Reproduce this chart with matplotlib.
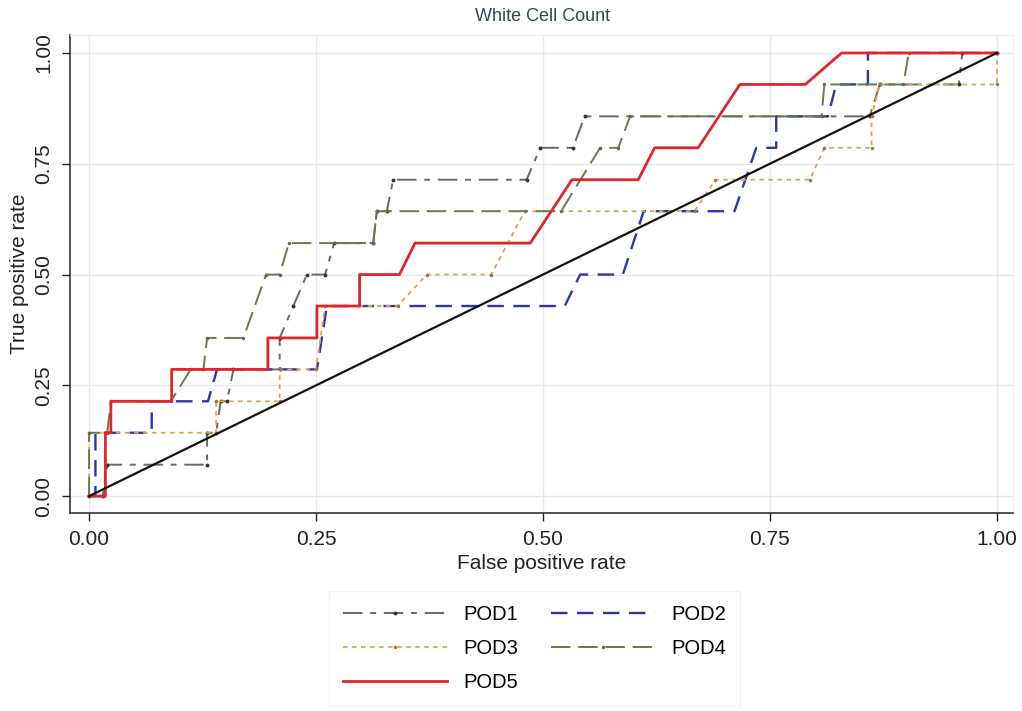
import matplotlib
matplotlib.use('Agg')
import matplotlib.pyplot as plt

plt.rcParams['font.family'] = ['Liberation Sans', 'DejaVu Sans']

# ROC points (false positive rate, true positive rate) per period
pod1_fpr = [0, 0.015, 0.020, 0.130, 0.130, 0.140, 0.145, 0.152, 0.159, 0.210, 0.210, 0.225, 0.240, 0.260,
            0.270, 0.313, 0.317, 0.328, 0.335, 0.482, 0.497, 0.533, 0.546, 0.860, 0.871, 0.958, 0.962, 1.0]
pod1_tpr = [0, 0, 0.071, 0.071, 0.143, 0.143, 0.214, 0.214, 0.286, 0.286, 0.357, 0.429, 0.5, 0.5,
            0.571, 0.571, 0.643, 0.643, 0.714, 0.714, 0.786, 0.786, 0.857, 0.857, 0.929, 0.929, 1.0, 1.0]

pod2_fpr = [0, 0.007, 0.007, 0.069, 0.069, 0.131, 0.141, 0.251, 0.262, 0.524, 0.541, 0.588, 0.611,
            0.711, 0.735, 0.757, 0.757, 0.814, 0.823, 0.858, 0.858, 1.0]
pod2_tpr = [0, 0, 0.143, 0.143, 0.214, 0.214, 0.286, 0.286, 0.429, 0.429, 0.5, 0.5, 0.643,
            0.643, 0.786, 0.786, 0.857, 0.857, 0.929, 0.929, 1.0, 1.0]

pod3_fpr = [0, 0, 0.140, 0.140, 0.210, 0.210, 0.250, 0.260, 0.340, 0.372, 0.443, 0.480, 0.667,
            0.690, 0.794, 0.810, 0.862, 0.862, 0.871, 1.0, 1.0]
pod3_tpr = [0, 0.143, 0.143, 0.214, 0.214, 0.286, 0.286, 0.429, 0.429, 0.5, 0.5, 0.643, 0.643,
            0.714, 0.714, 0.786, 0.786, 0.857, 0.929, 0.929, 1.0]

pod4_fpr = [0, 0, 0.020, 0.024, 0.090, 0.112, 0.126, 0.130, 0.170, 0.195, 0.210, 0.220, 0.313,
            0.317, 0.520, 0.563, 0.583, 0.596, 0.807, 0.810, 0.897, 0.903, 1.0]
pod4_tpr = [0, 0.143, 0.143, 0.214, 0.214, 0.286, 0.286, 0.357, 0.357, 0.5, 0.5, 0.571, 0.571,
            0.643, 0.643, 0.786, 0.786, 0.857, 0.857, 0.929, 0.929, 1.0, 1.0]

pod5_fpr = [0, 0.018, 0.018, 0.024, 0.024, 0.091, 0.091, 0.197, 0.197, 0.251, 0.251, 0.298,
            0.298, 0.342, 0.359, 0.486, 0.532, 0.605, 0.623, 0.671, 0.717, 0.789, 0.829, 1.0]
pod5_tpr = [0, 0, 0.143, 0.143, 0.214, 0.214, 0.286, 0.286, 0.357, 0.357, 0.429, 0.429,
            0.5, 0.5, 0.571, 0.571, 0.714, 0.714, 0.786, 0.786, 0.929, 0.929, 1.0, 1.0]

ticks = [0.0, 0.25, 0.5, 0.75, 1.0]
tick_labels = ['0.00', '0.25', '0.50', '0.75', '1.00']

fig = plt.figure(figsize=(10.22, 7.11), dpi=100)
ax = fig.add_axes([0.0685, 0.2785, 0.9225, 0.6723])

ax.set_xlim(-0.021, 1.0176)
ax.set_ylim(-0.038, 1.0406)
ax.set_xticks(ticks)
ax.set_xticklabels(tick_labels)
ax.set_yticks(ticks)
ax.set_yticklabels(tick_labels, rotation=90, va='center')
ax.grid(True, color='#e4e9ee', linewidth=1.0)
ax.set_axisbelow(True)
for side in ['top', 'right']:
    ax.spines[side].set_color('#eef1f4')
for side in ['left', 'bottom']:
    ax.spines[side].set_color('#222222')
    ax.spines[side].set_linewidth(1.1)
ax.tick_params(axis='both', length=6, width=1.0, color='#222222', labelsize=15, labelcolor='#222222', pad=6)

h1, = ax.plot(pod1_fpr, pod1_tpr, color='#6a6a5c', lw=1.4, dashes=(10, 4, 3, 4),
              marker='o', markersize=1.8, markerfacecolor='#333333', markeredgecolor='#333333', label='POD1')
h2, = ax.plot(pod2_fpr, pod2_tpr, color='#2f34a6', lw=1.7, dashes=(7, 4), label='POD2')
h3, = ax.plot(pod3_fpr, pod3_tpr, color='#e0a24c', lw=1.3, dashes=(2.5, 2.5),
              marker='o', markersize=1.5, markerfacecolor='#9a7a40', markeredgecolor='#9a7a40', label='POD3')
h4, = ax.plot(pod4_fpr, pod4_tpr, color='#687a4a', lw=1.4, dashes=(10, 4),
              marker='o', markersize=1.5, markerfacecolor='#666666', markeredgecolor='#666666', label='POD4')
h5, = ax.plot(pod5_fpr, pod5_tpr, color='#e0262b', lw=2.0, label='POD5')
ax.plot([0, 1], [0, 1], color='#111111', lw=1.6, zorder=5)

ax.set_xlabel('False positive rate', fontsize=15, color='#222222', labelpad=4)
ax.set_ylabel('True positive rate', fontsize=15, color='#222222', labelpad=4)
fig.text(0.531, 0.977, 'White Cell Count', ha='center', va='center', fontsize=13, color='#2c4660')

leg = fig.legend([h1, h3, h5, h2, h4], ['POD1', 'POD3', 'POD5', 'POD2', 'POD4'],
                 ncol=2, loc='center', bbox_to_anchor=(0.523, 0.088), fontsize=14.5,
                 handlelength=5.2, handletextpad=0.8, columnspacing=1.6, labelspacing=0.75,
                 frameon=True, fancybox=False, borderpad=0.7)
leg.get_frame().set_edgecolor('#eeeeee')
leg.get_frame().set_linewidth(0.8)

fig.savefig('out.png', dpi=100)
